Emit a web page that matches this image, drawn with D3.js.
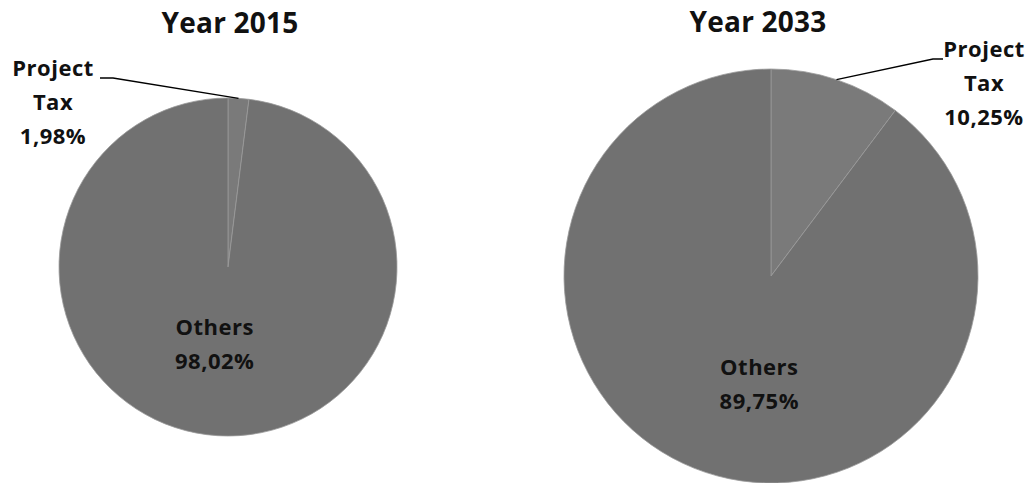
<!DOCTYPE html>
<html><head><meta charset="utf-8">
<script src="https://cdn.jsdelivr.net/npm/d3@7"></script>
<style>
html,body{margin:0;padding:0;background:#fff;}
svg text{font-family:"Open Sans",Lato,sans-serif;font-weight:bold;fill:#111;}
</style></head>
<body><svg id="c" width="1029" height="483"></svg>
<script>
const titles = ["Year 2015", "Year 2033"];
const categories = ["Project Tax", "Others"];
const values2015 = [1.98, 98.02];
const values2033 = [10.25, 89.75];
const valueLabels2015 = ["1,98%", "98,02%"];
const valueLabels2033 = ["10,25%", "89,75%"];

const svg = d3.select("#c");
const pieGen = d3.pie().sort(null).value(d => d);

const charts = [
  {title: titles[0], values: values2015, labels: valueLabels2015,
   cx: 228, cy: 267, r: 169, titleX: 230, titleY: 33,
   taxLabel: {x: 53, y: 76, elbowX: 100, elbowX2: 113},
   othersOff: {dx: -8, dy: -9, rf: 0.5}},
  {title: titles[1], values: values2033, labels: valueLabels2033,
   cx: 771, cy: 276, r: 207, titleX: 758, titleY: 32,
   taxLabel: {x: 984, y: 57, elbowX: 943, elbowX2: 933},
   othersOff: {dx: 25, dy: -4, rf: 0.56}}
];

const fills = ["#7a7a7a", "#717171"];

charts.forEach(c => {
  const g = svg.append("g").attr("transform", `translate(${c.cx},${c.cy})`);
  const arcs = pieGen(c.values);
  const arc = d3.arc().innerRadius(0).outerRadius(c.r);
  g.selectAll("path").data(arcs).join("path")
    .attr("d", arc).attr("fill", (d,i) => fills[i])
    .attr("stroke", "#9a9a9a").attr("stroke-width", 0.8);

  svg.append("text").attr("x", c.titleX).attr("y", c.titleY)
    .attr("text-anchor", "middle").style("font-size", "28px")
    .style("letter-spacing", "0.2px").text(c.title);

  // Project Tax label with leader
  const a0 = arcs[0];
  const mid = (a0.startAngle + a0.endAngle) / 2;
  const px = c.cx + c.r * Math.sin(mid), py = c.cy - c.r * Math.cos(mid);
  const tl = c.taxLabel;
  const lineY = tl.y + 2;
  svg.append("polyline")
    .attr("points", `${px},${py} ${tl.elbowX2},${lineY} ${tl.elbowX},${lineY}`)
    .attr("fill", "none").attr("stroke", "#000").attr("stroke-width", 1.3);
  const words = categories[0].split(" ");
  const lines = [words[0], words[1], c.labels[0]];
  lines.forEach((t, i) => {
    svg.append("text").attr("x", tl.x).attr("y", tl.y + i * 34)
      .attr("text-anchor", "middle").style("font-size", "22px")
      .style("letter-spacing", "0.5px").text(t);
  });

  // Others label
  const a1 = arcs[1];
  const m1 = (a1.startAngle + a1.endAngle) / 2;
  const rr = c.r * c.othersOff.rf;
  const ox = c.cx + rr * Math.sin(m1) + c.othersOff.dx;
  const oy = c.cy - rr * Math.cos(m1) + c.othersOff.dy;
  svg.append("text").attr("x", ox).attr("y", oy - 7)
    .attr("text-anchor", "middle").style("font-size", "22px")
    .style("letter-spacing", "0.5px").text(categories[1]);
  svg.append("text").attr("x", ox).attr("y", oy + 27)
    .attr("text-anchor", "middle").style("font-size", "22px")
    .style("letter-spacing", "0.5px").text(c.labels[1]);
});
</script></body></html>
